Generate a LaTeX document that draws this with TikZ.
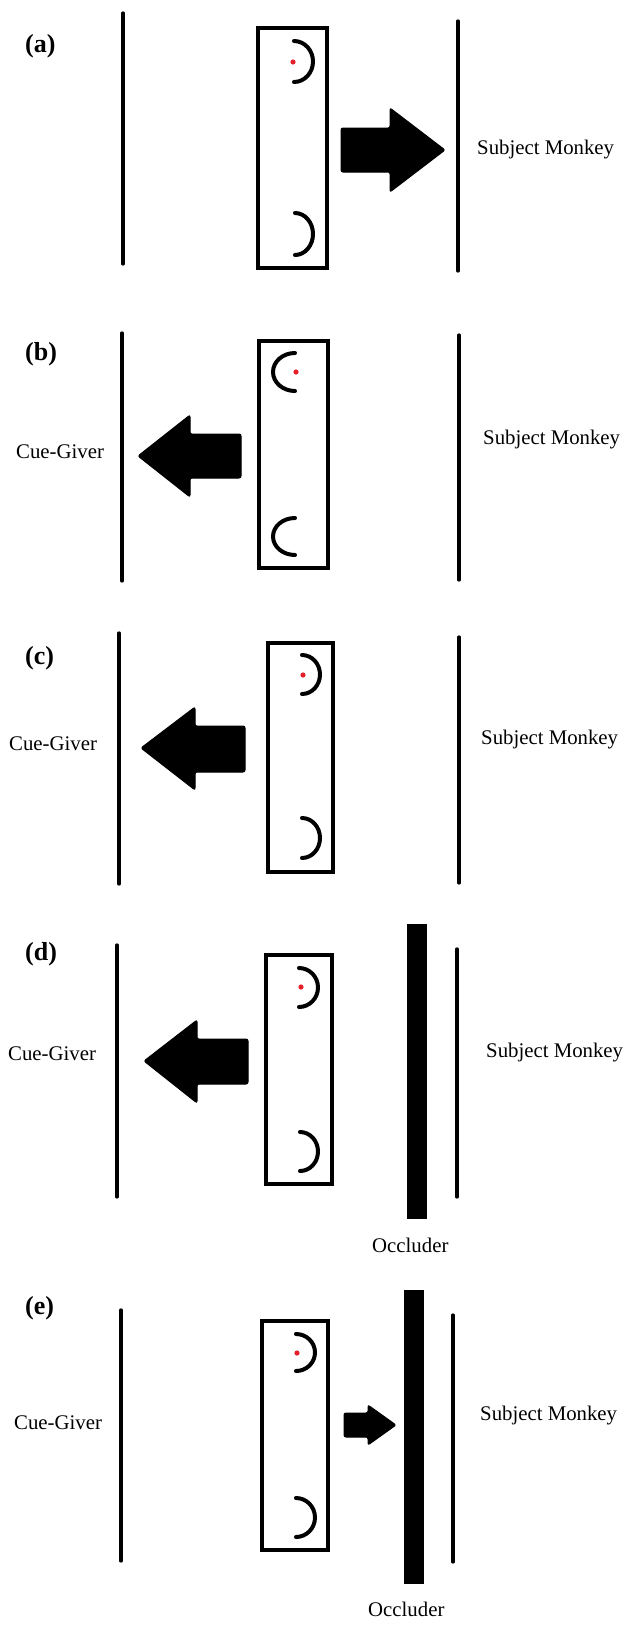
\documentclass[tikz,border=0pt]{standalone}
\usepackage{fontspec}
\setmainfont{Liberation Serif}
\begin{document}
\begin{tikzpicture}[x=1pt,y=-1pt,
  vline/.style={line width=3.3pt,line cap=round},
  boxstyle/.style={draw,line width=4pt},
  arcstyle/.style={line width=4pt,line cap=round},
  blockarrow/.style={fill=black,draw=black,line width=1pt,rounded corners=2pt},
  occl/.style={fill=black},
  reddot/.style={fill=dotred},
  lbl/.style={anchor=mid west,inner sep=0pt,font=\fontsize{26}{30}\selectfont\bfseries},
  txt/.style={anchor=mid west,inner sep=0pt,font=\fontsize{20.8}{25}\selectfont}]
\definecolor{dotred}{RGB}{228,32,42}
\fill[white] (0,0) rectangle (626,1625);
\useasboundingbox (0,0) rectangle (626,1625);

% ---------- (a) ----------
\node[lbl] (la) at (25,50) {(a)};
\draw[vline] (123,13) -- (123,264);
\draw[vline] (458,21) -- (458,271);
\draw[boxstyle] (258,28) rectangle (327,268);
\draw[arcstyle] (294,41) arc[start angle=-90,end angle=90,x radius=19,y radius=20.5];
\fill[reddot] (293,62) circle (2.6);
\draw[arcstyle] (295,213) arc[start angle=-90,end angle=90,x radius=18,y radius=21];
\draw[blockarrow] (341,128) -- (390,128) -- (390,108) -- (445,150) -- (390,192) -- (390,172) -- (341,172) -- cycle;
\node[txt] (sa) at (477,152) {Subject Monkey};

% ---------- (b) ----------
\node[lbl] (lb) at (25,358) {(b)};
\draw[vline] (122,333) -- (122,581);
\draw[vline] (459,335) -- (459,580);
\draw[boxstyle] (259,341) rectangle (328,568);
\draw[arcstyle] (295,353) arc[start angle=-90,end angle=-270,x radius=22,y radius=19];
\fill[reddot] (296,372) circle (2.6);
\draw[arcstyle] (295,518) arc[start angle=-90,end angle=-270,x radius=22,y radius=18.5];
\draw[blockarrow] (241,434) -- (190,434) -- (190,415) -- (138,456) -- (190,497) -- (190,478) -- (241,478) -- cycle;
\node[txt] (cb) at (16,456) {Cue-Giver};
\node[txt] (sb) at (483,442) {Subject Monkey};

% ---------- (c) ----------
\node[lbl] (lc) at (25,662) {(c)};
\draw[vline] (119,633) -- (119,884);
\draw[vline] (459,637) -- (459,883);
\draw[boxstyle] (268,643) rectangle (333,872);
\draw[arcstyle] (302,655) arc[start angle=-90,end angle=90,x radius=18,y radius=19.5];
\fill[reddot] (303,675) circle (2.6);
\draw[arcstyle] (302,818) arc[start angle=-90,end angle=90,x radius=18,y radius=20];
\draw[blockarrow] (245,726) -- (195,726) -- (195,707) -- (141,748) -- (195,790) -- (195,772) -- (245,772) -- cycle;
\node[txt] (cc) at (9,748) {Cue-Giver};
\node[txt] (sc) at (481,742) {Subject Monkey};

% ---------- (d) ----------
\node[lbl] (ld) at (25,958) {(d)};
\draw[vline] (117,945) -- (117,1197);
\draw[vline] (457,949) -- (457,1197);
\draw[boxstyle] (266,955) rectangle (332,1184);
\draw[arcstyle] (299,968) arc[start angle=-90,end angle=90,x radius=19,y radius=19.5];
\fill[reddot] (301,987) circle (2.6);
\draw[arcstyle] (300,1132) arc[start angle=-90,end angle=90,x radius=18,y radius=19.5];
\draw[blockarrow] (248,1039) -- (197,1039) -- (197,1020) -- (144,1061) -- (197,1103) -- (197,1084) -- (248,1084) -- cycle;
\fill[occl] (407,924) rectangle (427,1219);
\node[txt] (cd) at (8,1058) {Cue-Giver};
\node[txt] (sd) at (486,1055) {Subject Monkey};
\node[txt] (od) at (372,1250) {Occluder};

% ---------- (e) ----------
\node[lbl] (le) at (25,1312) {(e)};
\draw[vline] (121,1310) -- (121,1561);
\draw[vline] (453,1315) -- (453,1562);
\draw[boxstyle] (262,1321) rectangle (328,1550);
\draw[arcstyle] (296,1334) arc[start angle=-90,end angle=90,x radius=19,y radius=18.5];
\fill[reddot] (297,1353) circle (2.6);
\draw[arcstyle] (296,1498) arc[start angle=-90,end angle=90,x radius=19,y radius=19.5];
\draw[blockarrow] (344,1413) -- (368,1413) -- (368,1405) -- (396,1425) -- (368,1445) -- (368,1437) -- (344,1437) -- cycle;
\fill[occl] (404,1290) rectangle (424,1584);
\node[txt] (ce) at (14,1427) {Cue-Giver};
\node[txt] (se) at (480,1418) {Subject Monkey};
\node[txt] (oe) at (368,1614) {Occluder};
\end{tikzpicture}
\end{document}
